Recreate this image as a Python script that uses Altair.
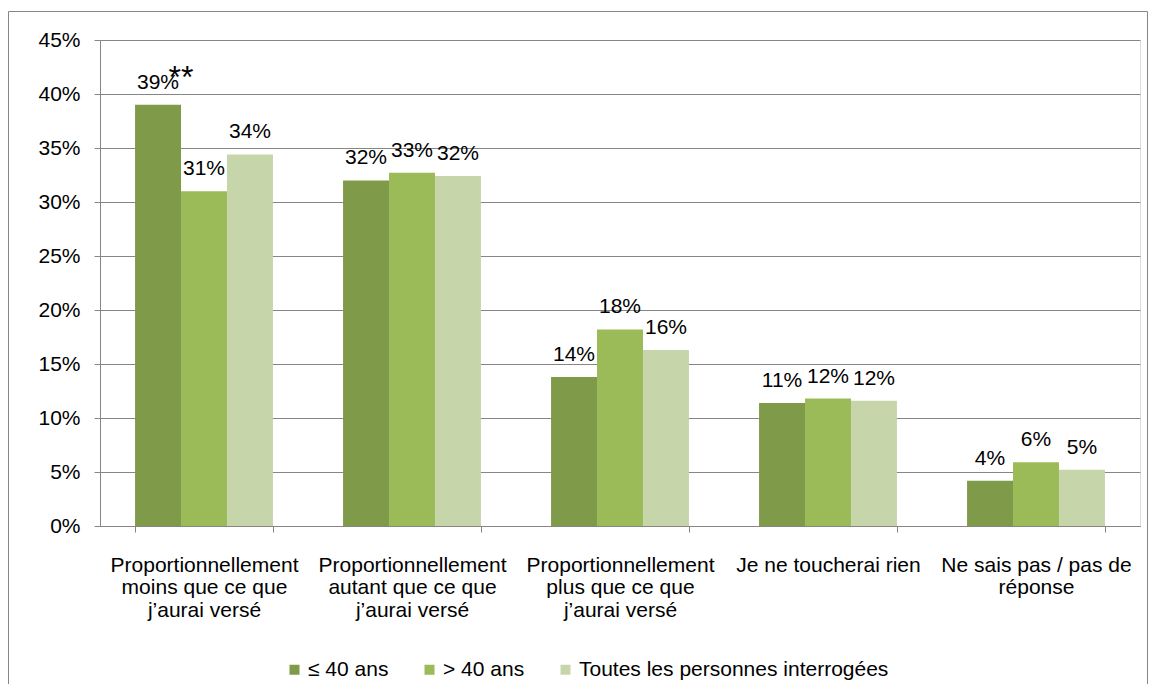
import altair as alt
import pandas as pd

categories = [
    "Proportionnellement\nmoins que ce que\nj’aurai versé",
    "Proportionnellement\nautant que ce que\nj’aurai versé",
    "Proportionnellement\nplus que ce que\nj’aurai versé",
    "Je ne toucherai rien",
    "Ne sais pas / pas de\nréponse",
]
series = ["≤ 40 ans", "> 40 ans", "Toutes les personnes interrogées"]
values_le40 = [39.0, 32.0, 13.8, 11.4, 4.2]
values_gt40 = [31.0, 32.7, 18.2, 11.8, 5.9]
values_all = [34.4, 32.4, 16.3, 11.6, 5.2]
labels_le40 = ["39%", "32%", "14%", "11%", "4%"]
labels_gt40 = ["31%", "33%", "18%", "12%", "6%"]
labels_all = ["34%", "32%", "16%", "12%", "5%"]
colors = ["#7F9A48", "#9BBB59", "#C6D6AA"]
y_ticks = [0, 5, 10, 15, 20, 25, 30, 35, 40, 45]
annotation_category = categories[0]
annotation_series = series[0]
annotation_value = 39.0
annotation_text = "**"

FONT = "Liberation Sans"
GRAY = "#868686"
FS = 21

rows = []
for s, vals, labs in zip(series, [values_le40, values_gt40, values_all],
                         [labels_le40, labels_gt40, labels_all]):
    for c, v, l in zip(categories, vals, labs):
        rows.append({"cat": c, "series": s, "value": v, "label": l})
df = pd.DataFrame(rows)

ann_df = pd.DataFrame([{"cat": annotation_category, "series": annotation_series,
                        "value": annotation_value, "text": annotation_text}])

x_enc = alt.X(
    "cat:N", sort=categories,
    scale=alt.Scale(domain=categories, paddingInner=0.337, paddingOuter=0.1685),
    axis=alt.Axis(title=None, labelExpr="split(datum.label, '\\n')", labelAngle=0,
                  tickBand="extent", tickSize=6, labelPadding=22,
                  labelLineHeight=22.5, labelFontSize=FS, labelFont=FONT,
                  labelColor="#000000", labelLimit=400, domainColor=GRAY,
                  tickColor=GRAY, grid=False),
)
xoff_enc = alt.XOffset("series:N", sort=series, scale=alt.Scale(domain=series))
y_enc = alt.Y(
    "value:Q", scale=alt.Scale(domain=[0, 45]),
    axis=alt.Axis(title=None, values=y_ticks, labelExpr="datum.value + '%'",
                  grid=True, gridColor=GRAY, gridWidth=1, tickSize=6,
                  tickColor=GRAY, domainColor=GRAY, labelPadding=14,
                  labelFontSize=FS, labelFont=FONT, labelColor="#000000"),
)

bars = alt.Chart(df).mark_bar().encode(
    x=x_enc, xOffset=xoff_enc, y=y_enc,
    color=alt.Color(
        "series:N", sort=series,
        scale=alt.Scale(domain=series, range=colors),
        legend=alt.Legend(title=None, orient="none", direction="horizontal",
                          legendX=184, legendY=619, symbolType="square",
                          symbolSize=100, symbolStrokeWidth=0,
                          labelFontSize=FS, labelFont=FONT, labelColor="#000000",
                          labelOffset=3, columnPadding=30, labelLimit=500),
    ),
)

texts = alt.Chart(df).mark_text(baseline="alphabetic", dy=-16, fontSize=FS,
                                font=FONT, color="#000000").encode(
    x=alt.X("cat:N", sort=categories), xOffset=alt.XOffset("series:N", sort=series),
    y="value:Q", text="label:N",
)

ann = alt.Chart(ann_df).mark_text(baseline="alphabetic", dx=23, dy=-17, fontSize=32,
                                  font=FONT, color="#000000").encode(
    x=alt.X("cat:N", sort=categories), xOffset=alt.XOffset("series:N", sort=series),
    y="value:Q", text="text:N",
)

frame_df = pd.DataFrame([{"k": 1}])
frame = alt.Chart(frame_df).mark_rect(fillOpacity=0, stroke=GRAY, strokeWidth=1).encode(
    x=alt.value(-91.5), x2=alt.value(1047.5), y=alt.value(-28.5), y2=alt.value(700),
)

chart = alt.layer(frame, bars, texts, ann).properties(
    width=1040, height=486,
    autosize=alt.AutoSizeParams(type="none"),
    padding={"left": 92, "top": 32, "right": 8, "bottom": 158},
).configure_view(strokeWidth=0).configure(font=FONT)

chart.save("out.html", embed_options={"renderer": "svg", "actions": False})
